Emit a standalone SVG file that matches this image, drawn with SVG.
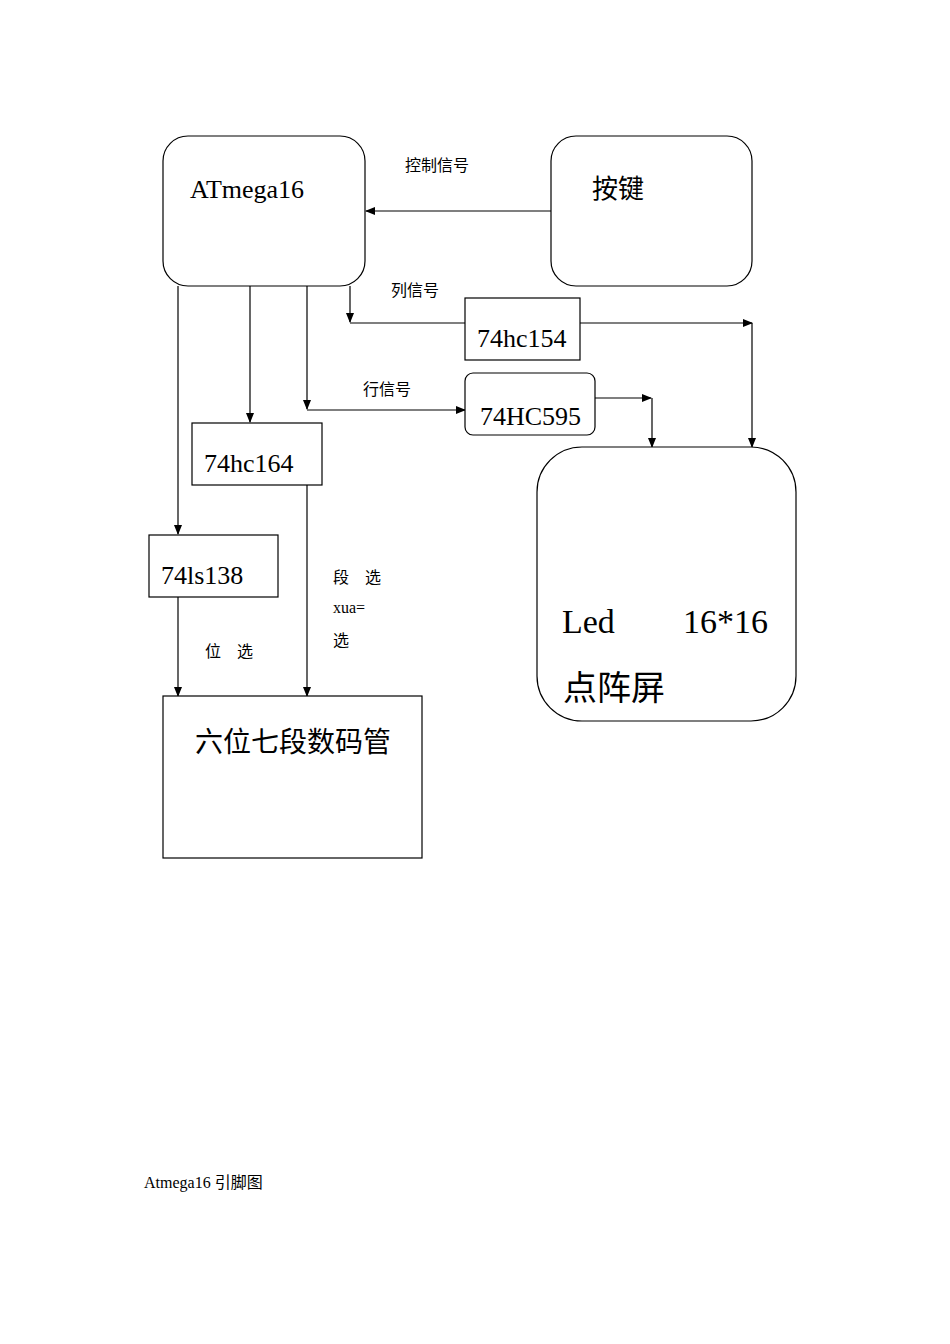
<svg xmlns="http://www.w3.org/2000/svg" width="950" height="1344" viewBox="0 0 950 1344">
<style>
.b{fill:#fff;stroke:#000;stroke-width:1.2}
.l{stroke:#000;stroke-width:1.2;fill:none;marker-end:url(#a)}
text{font-family:"Liberation Serif","Noto Sans CJK SC",serif;fill:#000}
.n{font-size:26px}.s{font-size:16px}.g{font-size:34px}
</style>
<defs><marker id="a" markerWidth="10" markerHeight="8" refX="9" refY="4" orient="auto" markerUnits="userSpaceOnUse"><path d="M0,0L10,4L0,8z"/></marker></defs>
<rect width="950" height="1344" fill="#fff"/>
<g id="connectors">
<path class="l" d="M551,211H366"/>
<path class="l" d="M350,286V322"/>
<path class="l" d="M350,323H752"/>
<path class="l" d="M752,323V447"/>
<path class="l" d="M307,286V409"/>
<path class="l" d="M307,410H465"/>
<path class="l" d="M595,398H651"/>
<path class="l" d="M652,398V447"/>
<path class="l" d="M250,286V422"/>
<path class="l" d="M178,286V534"/>
<path class="l" d="M178,597V696"/>
<path class="l" d="M307,485V696"/>
</g>
<g id="atmega"><rect class="b" x="163" y="136" width="202" height="150" rx="25"/><text class="n" x="190" y="198">ATmega16</text></g>
<g id="key"><rect class="b" x="551" y="136" width="201" height="150" rx="25"/><text class="n" x="592" y="198">按键</text></g>
<g id="hc154"><rect class="b" x="465" y="298" width="115" height="62"/><text class="n" x="477" y="347">74hc154</text></g>
<g id="hc595"><rect class="b" x="465" y="373" width="130" height="62" rx="8"/><text class="n" x="480" y="425">74HC595</text></g>
<g id="led"><rect class="b" x="537" y="447" width="259" height="274" rx="45"/><text class="g" x="562" y="633">Led</text><text class="g" x="683" y="633">16*16</text><text class="g" x="563" y="700">点阵屏</text></g>
<g id="hc164"><rect class="b" x="192" y="423" width="130" height="62"/><text class="n" x="204" y="472">74hc164</text></g>
<g id="ls138"><rect class="b" x="149" y="535" width="129" height="62"/><text class="n" x="161" y="584">74ls138</text></g>
<g id="seg"><rect class="b" x="163" y="696" width="259" height="162"/><text x="195" y="752" font-size="28">六位七段数码管</text></g>
<g id="labels">
<text class="s" x="405" y="171">控制信号</text>
<text class="s" x="391" y="296">列信号</text>
<text class="s" x="363" y="395">行信号</text>
<text class="s" x="205" y="657">位　选</text>
<text class="s" x="333" y="583">段　选</text>
<text class="s" x="333" y="613">xua=</text>
<text class="s" x="333" y="646">选</text>
<text class="s" x="144" y="1188">Atmega16 引脚图</text>
</g>
</svg>
